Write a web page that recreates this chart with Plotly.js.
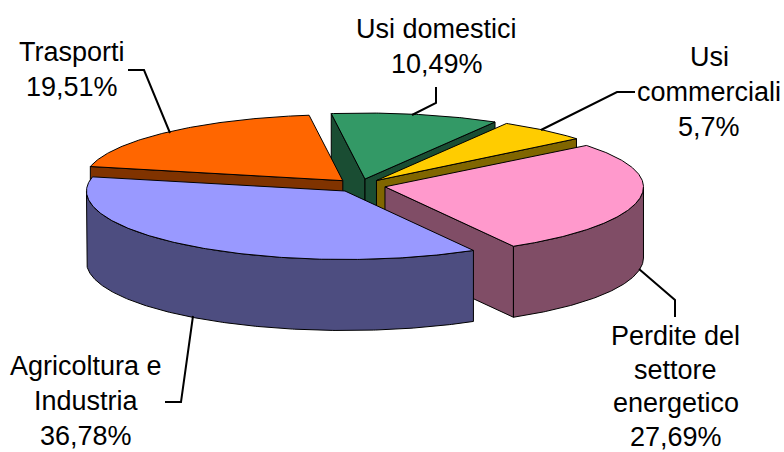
<!DOCTYPE html>
<html>
<head>
<meta charset="utf-8">
<script src="https://cdn.plot.ly/plotly-3.0.1.min.js"></script>
<style>html,body{margin:0;padding:0;background:#fff;overflow:hidden}#c{width:784px;height:452px}</style>
</head>
<body>
<div id="c"></div>
<script>
// Data
const categories = ['Agricoltura e Industria', 'Trasporti', 'Usi domestici', 'Usi commerciali', 'Perdite del settore energetico'];
const shares = [36.78, 19.51, 10.49, 5.7, 27.69];
const percentLabels = ['36,78%', '19,51%', '10,49%', '5,7%', '27,69%'];
const topColors = ['#9999FF', '#FF6600', '#339966', '#FFCC00', '#FF99CC'];
const wallColors = ['#4D4D80', '#803300', '#1A4D33', '#806600', '#804D66'];
const labelLines = [['Agricoltura e', 'Industria'], ['Trasporti'], ['Usi domestici'], ['Usi', 'commerciali'], ['Perdite del', 'settore', 'energetico']];
const labelCenterX = [86, 72, 436.5, 709, 675.5];
const labelFirstBaseline = [375.5, 61, 38.5, 65.7, 345.5];
const labelLineGap = [35, 35, 35, 35, 33.5];
const leaderX = [[193, 181, 165], [128, 144, 170], [436, 436, 412], [541, 617, 635], [639, 675, 675]];
const leaderY = [[316, 402, 402], [70, 70, 133], [87, 103, 115], [130, 92, 92], [269, 300, 317]];
const paintOrder = [2, 3, 4, 1, 0];

// Projection of the tilted, exploded pie
const cx = 360, cy = 185.6, rx = 258.5, ryFront = 68.5, ryBack = 66, depth = 71;
const explodeX = 25.4, explodeY = 6.7, startDeg = 60.2;
const fontSize = 27;
const rad = d => d * Math.PI / 180;
const total = shares.reduce((a, b) => a + b, 0);

const spans = [];
let acc = startDeg;
shares.forEach(s => { const d = s / total * 360; spans.push([acc, acc + d]); acc += d; });

const traces = [];
function poly(xs, ys, fill) {
  traces.push({x: xs, y: ys, type: 'scatter', mode: 'lines', fill: 'toself', fillcolor: fill,
    line: {color: '#000', width: 1}, hoverinfo: 'skip'});
}
paintOrder.forEach(i => {
  const [t0, t1] = spans[i];
  const mid = rad((t0 + t1) / 2);
  const ax = cx + explodeX * Math.cos(mid), ay = cy + explodeY * Math.sin(mid);
  const rim = t => {
    const s = Math.sin(rad(t));
    return [ax + rx * Math.cos(rad(t)), ay + (s > 0 ? ryFront : ryBack) * s];
  };
  const radialWall = t => {
    const p = rim(t);
    poly([ax, p[0], p[0], ax, ax], [ay, p[1], p[1] + depth, ay + depth, ay], wallColors[i]);
  };
  if (Math.cos(rad(t0)) < 0) radialWall(t0);
  if (Math.cos(rad(t1)) > 0) radialWall(t1);
  // curved outer wall: only the front half of the rim shows
  const arcPts = [];
  for (let t = t0; t <= t1 + 0.001; t += 0.5) {
    if (Math.sin(rad(t)) >= 0) arcPts.push(rim(t));
  }
  if (Math.sin(rad(t1)) >= 0) arcPts.push(rim(t1));
  if (arcPts.length > 1) {
    const xs = arcPts.map(p => p[0]), ys = arcPts.map(p => p[1]);
    const bx = xs.slice().reverse(), by = ys.map(v => v + depth).reverse();
    poly(xs.concat(bx, [xs[0]]), ys.concat(by, [ys[0]]), wallColors[i]);
  }
  // top face
  const tx = [ax], ty = [ay];
  for (let t = t0; t < t1; t += 0.5) { const p = rim(t); tx.push(p[0]); ty.push(p[1]); }
  const e = rim(t1); tx.push(e[0], ax); ty.push(e[1], ay);
  poly(tx, ty, topColors[i]);
});

leaderX.forEach((xs, i) => traces.push({x: xs, y: leaderY[i], type: 'scatter', mode: 'lines',
  line: {color: '#000', width: 2}, hoverinfo: 'skip'}));

const annotations = [];
categories.forEach((c, i) => {
  labelLines[i].concat([percentLabels[i]]).forEach((txt, k) => {
    annotations.push({x: labelCenterX[i], y: labelFirstBaseline[i] + k * labelLineGap[i] - 9.2,
      xref: 'x', yref: 'y', text: txt, showarrow: false, xanchor: 'center', yanchor: 'middle',
      borderpad: 0, font: {family: '"Liberation Sans", Arial, sans-serif', size: fontSize, color: '#000'}});
  });
});

Plotly.newPlot('c', traces, {
  width: 784, height: 452, margin: {l: 0, r: 0, t: 0, b: 0, pad: 0},
  paper_bgcolor: '#fff', plot_bgcolor: '#fff', showlegend: false, hovermode: false,
  xaxis: {range: [0, 784], visible: false, fixedrange: true},
  yaxis: {range: [452, 0], visible: false, fixedrange: true},
  annotations: annotations
}, {displayModeBar: false, staticPlot: true});
</script>
</body>
</html>
